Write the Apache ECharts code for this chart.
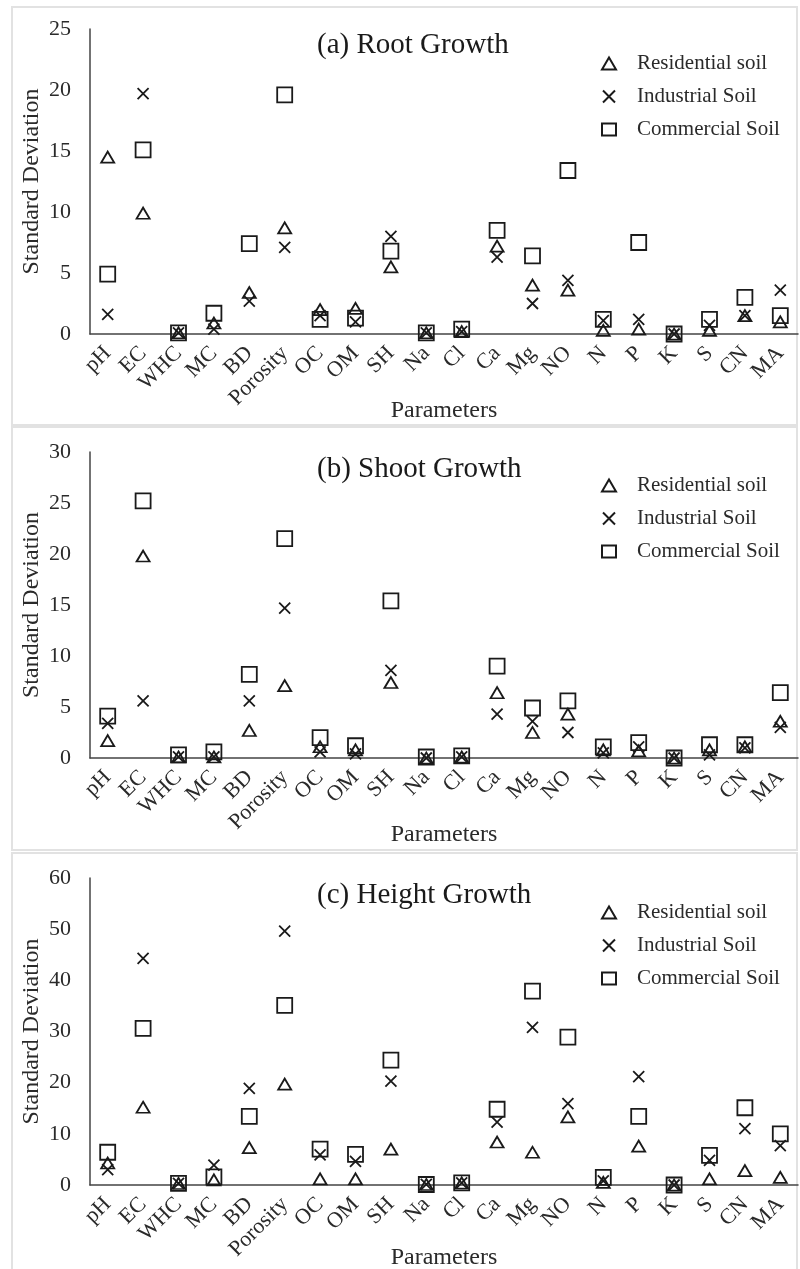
<!DOCTYPE html>
<html>
<head>
<meta charset="utf-8">
<script src="https://cdn.jsdelivr.net/npm/echarts@6/dist/echarts.min.js"></script>
<style>
html,body{margin:0;padding:0;background:#fff;}
#chart{width:800px;height:1269px;}
</style>
</head>
<body>
<div id="chart"></div>
<script>
var categories = ['pH','EC','WHC','MC','BD','Porosity','OC','OM','SH','Na','Cl','Ca','Mg','NO','N','P','K','S','CN','MA'];
var seriesNames = ['Residential soil','Industrial Soil','Commercial Soil'];
var panelTitles = ['(a) Root Growth','(b) Shoot Growth','(c) Height Growth'];
var yMaxes = [25, 30, 60];
var yIntervals = [5, 5, 10];

var rootResidential = [14.5, 9.9, 0.1, 0.9, 3.4, 8.7, 2.0, 2.1, 5.5, 0.1, 0.2, 7.2, 4.0, 3.6, 0.3, 0.4, 0.0, 0.3, 1.5, 1.0];
var rootIndustrial  = [1.6, 19.7, 0.1, 0.4, 2.7, 7.1, 1.5, 1.0, 8.0, 0.1, 0.2, 6.3, 2.5, 4.4, 1.1, 1.2, 0.0, 0.7, 1.5, 3.6];
var rootCommercial  = [4.9, 15.1, 0.1, 1.7, 7.4, 19.6, 1.2, 1.3, 6.8, 0.1, 0.4, 8.5, 6.4, 13.4, 1.2, 7.5, 0.0, 1.2, 3.0, 1.5];

var shootResidential = [1.7, 19.8, 0.1, 0.1, 2.7, 7.1, 1.1, 0.8, 7.4, 0.0, 0.1, 6.4, 2.5, 4.3, 0.8, 0.7, 0.0, 0.8, 1.1, 3.6];
var shootIndustrial  = [3.4, 5.6, 0.1, 0.1, 5.6, 14.7, 0.6, 0.4, 8.6, 0.0, 0.1, 4.3, 3.6, 2.5, 0.5, 1.1, 0.0, 0.3, 1.0, 3.0];
var shootCommercial  = [4.1, 25.2, 0.3, 0.6, 8.2, 21.5, 2.0, 1.2, 15.4, 0.1, 0.2, 9.0, 4.9, 5.6, 1.1, 1.5, 0.0, 1.3, 1.3, 6.4];

var heightResidential = [4.3, 15.2, 0.3, 1.0, 7.3, 19.7, 1.2, 1.2, 7.0, 0.1, 0.4, 8.4, 6.4, 13.3, 0.5, 7.6, 0.0, 1.2, 2.8, 1.5];
var heightIndustrial  = [3.0, 44.3, 0.3, 3.9, 18.9, 49.6, 5.9, 4.6, 20.3, 0.1, 0.4, 12.3, 30.8, 15.9, 0.8, 21.2, 0.0, 4.8, 11.0, 7.7];
var heightCommercial  = [6.4, 30.6, 0.3, 1.6, 13.4, 35.1, 7.0, 6.0, 24.4, 0.1, 0.4, 14.8, 37.9, 28.9, 1.5, 13.4, 0.0, 5.8, 15.1, 10.0];

var panelData = [
  [rootResidential, rootIndustrial, rootCommercial],
  [shootResidential, shootIndustrial, shootCommercial],
  [heightResidential, heightIndustrial, heightCommercial]
];

var FONT = '"Liberation Serif", "Times New Roman", serif';
var TEXTC = '#2a2a2a';
var gridTops = [29, 452, 878];
var gridHeights = [305, 306, 307];
var frames = [[12, 7, 785, 418], [12, 427, 785, 423], [12, 853, 785, 430]];
var titleTops = [26, 450, 876];
var legendTops = [48, 470, 897];
var xNameGaps = [65, 65, 61];

var symbols = [
  {symbol: 'triangle', size: [13, 11]},
  {symbol: 'path://M0,0L10,10M0,10L10,0', size: 11},
  {symbol: 'rect', size: 15}
];

var option = {
  backgroundColor: '#fff',
  animation: false,
  title: [], legend: [], grid: [], xAxis: [], yAxis: [], series: [],
  graphic: []
};

for (var p = 0; p < 3; p++) {
  option.graphic.push({
    type: 'rect', z: -1, silent: true,
    shape: {x: frames[p][0], y: frames[p][1], width: frames[p][2], height: frames[p][3]},
    style: {fill: 'none', stroke: '#e2e2e2', lineWidth: 2}
  });
  option.title.push({
    text: panelTitles[p], left: 312, top: titleTops[p],
    textStyle: {fontFamily: FONT, fontSize: 29, fontWeight: 'normal', color: '#1a1a1a'}
  });
  option.legend.push({
    orient: 'vertical', left: 596, top: legendTops[p],
    itemWidth: 14, itemHeight: 12, itemGap: 12,
    data: seriesNames,
    textStyle: {fontFamily: FONT, fontSize: 21, color: TEXTC, padding: [0, 0, 0, 16]}
  });
  option.grid.push({left: 90, right: 2, top: gridTops[p], height: gridHeights[p], outerBoundsMode: 'none', containLabel: false});
  option.xAxis.push({
    type: 'category', gridIndex: p, data: categories,
    name: 'Parameters', nameLocation: 'middle', nameGap: xNameGaps[p], nameMoveOverlap: false,
    nameTextStyle: {fontFamily: FONT, fontSize: 24, color: TEXTC},
    axisLine: {lineStyle: {color: '#444', width: 1.5}},
    axisTick: {show: false},
    axisLabel: {rotate: 45, interval: 0, margin: 16, fontFamily: FONT, fontSize: 22, color: TEXTC},
    splitLine: {show: false}
  });
  option.yAxis.push({
    type: 'value', gridIndex: p, min: 0, max: yMaxes[p], interval: yIntervals[p],
    name: 'Standard Deviation', nameLocation: 'middle', nameGap: 46, nameMoveOverlap: false,
    nameTextStyle: {fontFamily: FONT, fontSize: 24, color: TEXTC},
    axisLine: {show: true, lineStyle: {color: '#444', width: 1.5}},
    axisTick: {show: false},
    axisLabel: {fontFamily: FONT, fontSize: 22, color: TEXTC, margin: 19},
    splitLine: {show: false}
  });
  for (var s = 0; s < 3; s++) {
    option.series.push({
      type: 'scatter', name: seriesNames[s], xAxisIndex: p, yAxisIndex: p,
      data: panelData[p][s],
      symbol: symbols[s].symbol, symbolSize: symbols[s].size,
      itemStyle: {color: 'rgba(0,0,0,0)', borderColor: '#1a1a1a', borderWidth: 1.8, opacity: 1},
      emphasis: {disabled: true}
    });
  }
}

var chart = echarts.init(document.getElementById('chart'), null, {renderer: 'canvas'});
chart.setOption(option);
</script>
</body>
</html>
